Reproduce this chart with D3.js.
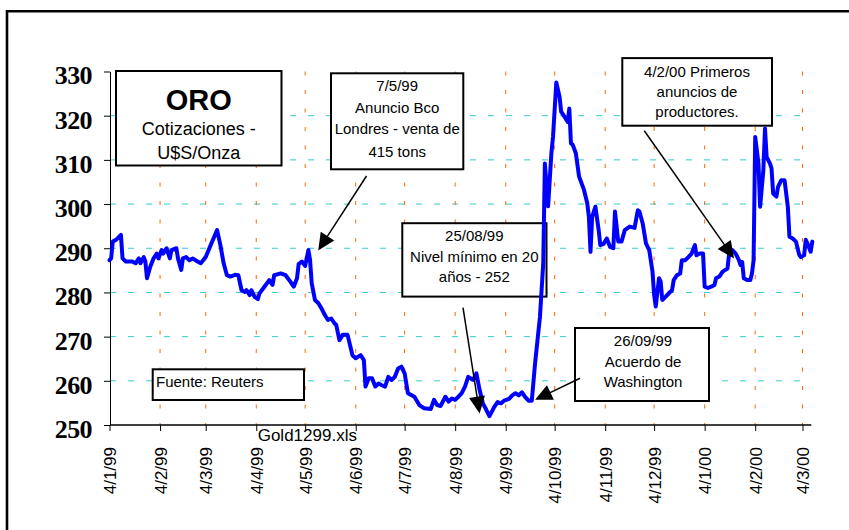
<!DOCTYPE html>
<html>
<head>
<meta charset="utf-8">
<script src="https://cdn.jsdelivr.net/npm/d3@7"></script>
<style>
  html, body { margin: 0; padding: 0; background: #fff; }
  svg { display: block; }
</style>
</head>
<body>
<svg id="chart" width="849" height="530"></svg>
<script>
// Gold quotes, US$ per ounce (one line per month)
const dates = [
  "1999-01-04","1999-01-05","1999-01-06","1999-01-08","1999-01-11","1999-01-12","1999-01-14","1999-01-18","1999-01-20","1999-01-22","1999-01-23","1999-01-25","1999-01-26","1999-01-27","1999-01-29","1999-01-31",
  "1999-02-02","1999-02-03","1999-02-05","1999-02-06","1999-02-08","1999-02-10","1999-02-11","1999-02-14","1999-02-15","1999-02-17","1999-02-18","1999-02-20","1999-02-22","1999-02-24","1999-02-27",
  "1999-03-01","1999-03-04","1999-03-07","1999-03-11","1999-03-13","1999-03-15","1999-03-17","1999-03-19","1999-03-22","1999-03-24","1999-03-26","1999-03-28","1999-03-29","1999-03-31",
  "1999-04-01","1999-04-03","1999-04-05","1999-04-06","1999-04-09","1999-04-12","1999-04-14","1999-04-15","1999-04-19","1999-04-22","1999-04-25","1999-04-27","1999-04-29","1999-04-30",
  "1999-05-02","1999-05-04","1999-05-06","1999-05-07","1999-05-08","1999-05-10","1999-05-12","1999-05-14","1999-05-16","1999-05-18","1999-05-20","1999-05-22","1999-05-23","1999-05-25","1999-05-27","1999-05-30",
  "1999-06-02","1999-06-04","1999-06-07","1999-06-09","1999-06-10","1999-06-12","1999-06-14","1999-06-16","1999-06-18","1999-06-20","1999-06-22","1999-06-24","1999-06-26","1999-06-28","1999-06-30",
  "1999-07-02","1999-07-04","1999-07-06","1999-07-08","1999-07-10","1999-07-13","1999-07-16","1999-07-20","1999-07-22","1999-07-24","1999-07-26","1999-07-29","1999-07-31",
  "1999-08-02","1999-08-04","1999-08-06","1999-08-08","1999-08-10","1999-08-12","1999-08-15","1999-08-17","1999-08-19","1999-08-21","1999-08-23","1999-08-25","1999-08-28","1999-08-30",
  "1999-09-01","1999-09-03","1999-09-06","1999-09-08","1999-09-10","1999-09-12","1999-09-14","1999-09-16","1999-09-18","1999-09-20","1999-09-22","1999-09-25","1999-09-27","1999-09-28","1999-09-30",
  "1999-10-02","1999-10-03","1999-10-05","1999-10-07","1999-10-08","1999-10-10","1999-10-12","1999-10-13","1999-10-14","1999-10-15","1999-10-17","1999-10-19","1999-10-22","1999-10-24","1999-10-25","1999-10-26","1999-10-27","1999-10-29","1999-10-31",
  "1999-11-01","1999-11-03","1999-11-05","1999-11-07","1999-11-09","1999-11-10","1999-11-12","1999-11-14","1999-11-16","1999-11-19","1999-11-22","1999-11-24","1999-11-25","1999-11-27","1999-11-29",
  "1999-12-01","1999-12-03","1999-12-04","1999-12-05","1999-12-07","1999-12-08","1999-12-09","1999-12-11","1999-12-13","1999-12-15","1999-12-16","1999-12-18","1999-12-20","1999-12-21","1999-12-23","1999-12-25","1999-12-27","1999-12-29","1999-12-30",
  "2000-01-01","2000-01-03","2000-01-04","2000-01-06","2000-01-08","2000-01-10","2000-01-11","2000-01-13","2000-01-15","2000-01-18","2000-01-19","2000-01-21","2000-01-23","2000-01-25","2000-01-26","2000-01-27","2000-01-28","2000-01-30",
  "2000-02-01","2000-02-02","2000-02-03","2000-02-04","2000-02-06","2000-02-07","2000-02-09","2000-02-10","2000-02-11","2000-02-13","2000-02-14","2000-02-15","2000-02-17","2000-02-18","2000-02-20","2000-02-22","2000-02-24","2000-02-25","2000-02-27","2000-02-29",
  "2000-03-02","2000-03-03","2000-03-05","2000-03-06","2000-03-07","2000-03-09","2000-03-10"
];
const prices = [
  287.3,287.7,291.5,291.9,293.0,287.7,287.0,287.0,286.6,287.7,286.6,288.0,287.0,283.2,285.8,287.7,
  288.8,287.7,289.6,288.8,290.0,287.7,289.6,290.0,287.7,285.1,287.7,288.0,287.3,287.7,287.0,
  286.6,288.0,290.7,294.1,290.7,286.6,283.9,283.6,284.0,283.9,280.5,280.1,280.5,279.4,
  280.5,279.0,278.5,279.8,281.3,282.8,281.7,283.9,284.3,283.9,282.4,281.3,283.2,286.4,
  287.0,286.0,289.6,287.3,282.1,278.3,277.6,276.4,274.9,273.8,274.1,273.0,272.7,269.2,270.4,270.4,
  265.8,265.1,265.8,264.7,258.7,260.6,260.6,258.7,259.4,259.0,258.7,260.9,260.2,260.9,262.8,
  263.2,261.7,257.2,256.8,256.4,254.5,253.8,253.6,255.7,254.5,254.3,256.4,255.3,
  256.0,255.7,256.4,257.2,258.7,260.9,260.2,261.7,257.9,254.9,253.5,252.0,254.1,255.2,
  254.9,255.5,255.9,256.7,257.2,256.7,257.4,256.3,255.5,255.5,264.0,274.5,286.6,309.2,299.5,
  311.5,315.2,327.5,324.3,320.9,319.8,318.6,321.6,313.7,313.5,311.5,306.2,303.2,300.2,297.1,289.2,297.1,299.4,294.1,
  290.7,291.0,292.2,290.3,290.0,298.3,291.5,291.5,294.1,294.9,294.6,298.6,298.3,295.6,291.1,
  289.6,284.7,279.5,276.8,283.2,282.5,278.3,279.0,279.8,280.5,282.8,283.9,284.3,287.3,287.3,288.0,288.8,290.7,288.4,
  288.8,288.8,281.3,281.0,281.3,281.7,283.2,283.6,284.7,285.4,288.8,289.6,288.8,287.3,286.2,286.9,283.2,282.8,
  282.8,284.3,287.3,315.2,309.2,299.4,307.7,317.1,310.7,309.2,308.1,302.4,301.7,303.9,305.4,305.4,299.4,292.6,292.2,291.5,
  288.5,288.0,288.4,291.9,291.1,289.2,291.5
];

const yTicks = [250, 260, 270, 280, 290, 300, 310, 320, 330];
const gridValues = [260, 270, 280, 290, 300, 310, 320];
const xTickLabels = ["4/1/99","4/2/99","4/3/99","4/4/99","4/5/99","4/6/99","4/7/99",
                     "4/8/99","4/9/99","4/10/99","4/11/99","4/12/99","4/1/00","4/2/00","4/3/00"];

// Call-out boxes: text, box geometry, line baselines, arrow start and the point it marks
const notes = [
  { lines: ["7/5/99", "Anuncio Bco", "Londres - venta de", "415 tons"],
    box: [331, 73.3, 132.3, 96], cx: 397.2, base: [90.7, 113.3, 134, 156.7],
    from: [366.5, 176], tipDate: "1999-05-12", tipValue: 289.5 },
  { lines: ["25/08/99", "Nivel mínimo en 20", "años - 252"],
    box: [402.3, 223.2, 144.2, 73.4], cx: 474.3, base: [240.7, 261.7, 282.3],
    from: [463, 307.6], tipDate: "1999-08-19", tipValue: 252.6 },
  { lines: ["26/09/99", "Acuerdo de", "Washington"],
    box: [575, 328, 134, 73], cx: 643, base: [346, 367.3, 387.3],
    from: [580, 378.3], tipDate: "1999-09-22", tipValue: 255.7 },
  { lines: ["4/2/00 Primeros", "anuncios de", "productores."],
    box: [622.3, 58.1, 149.7, 67.6], cx: 697, base: [76.7, 97.3, 117.3],
    from: [644.3, 130.7], tipDate: "2000-01-22", tipValue: 287.7 }
];

const sans = "'Liberation Sans', Arial, Helvetica, sans-serif";
const svg = d3.select("#chart");

const parseDate = d3.utcParse("%Y-%m-%d");
const parseTick = d3.utcParse("%d/%m/%y");
const series = dates.map((d, i) => ({ date: parseDate(d), value: prices[i] }));
const tickDates = xTickLabels.map(parseTick);

const x = d3.scaleUtc()
  .domain([tickDates[0], tickDates[tickDates.length - 1]])
  .range([109.5, 802.5]);
const y = d3.scaleLinear().domain([250, 330]).range([425, 71.5]);

const xEnd = x(series[series.length - 1].date) - 1;

// Outer frame
svg.append("path")
  .attr("d", "M7,540 V11.3 H860")
  .attr("fill", "none").attr("stroke", "#000").attr("stroke-width", 2.6);

// Horizontal grid
svg.append("g").selectAll("line").data(gridValues).join("line")
  .attr("x1", 110).attr("x2", xEnd)
  .attr("y1", d => y(d)).attr("y2", d => y(d))
  .attr("stroke", "#33CCCC").attr("stroke-width", 1)
  .attr("stroke-dasharray", "6,12");

// Vertical grid at each month tick
svg.append("g").selectAll("line").data(tickDates.slice(1)).join("line")
  .attr("x1", d => x(d)).attr("x2", d => x(d))
  .attr("y1", y(330)).attr("y2", y(250))
  .attr("stroke", "#FF6600").attr("stroke-width", 1)
  .attr("stroke-dasharray", "4,14.5");

// Y axis
const yAxis = svg.append("g")
  .attr("transform", "translate(110,0)")
  .call(d3.axisLeft(y).tickValues(yTicks).tickSize(6).tickSizeOuter(0).tickFormat(d3.format("d")));
yAxis.select(".domain").attr("stroke", "#000").attr("stroke-width", 1);
yAxis.selectAll(".tick line").attr("stroke", "#000");
yAxis.selectAll(".tick text")
  .attr("x", -18).attr("dy", "0.48em")
  .attr("font-family", "'Liberation Serif', 'Times New Roman', serif")
  .attr("font-weight", "bold").attr("font-size", 26)
  .attr("letter-spacing", -0.6).attr("fill", "#000");

// X axis
const xAxis = svg.append("g")
  .attr("transform", "translate(0,425)")
  .call(d3.axisBottom(x).tickValues(tickDates).tickSize(6).tickSizeOuter(0)
    .tickFormat((d, i) => xTickLabels[i]));
xAxis.select(".domain").remove();
xAxis.append("line")
  .attr("x1", 110).attr("x2", xEnd).attr("y1", 0).attr("y2", 0)
  .attr("stroke", "#000").attr("stroke-width", 1.5);
xAxis.selectAll(".tick line").attr("stroke", "#000");
xAxis.selectAll(".tick text")
  .attr("transform", "rotate(-90)")
  .attr("x", -22).attr("y", 0).attr("dy", "0.35em")
  .attr("text-anchor", "end")
  .attr("font-family", sans).attr("font-size", 17).attr("fill", "#000");

svg.append("text")
  .attr("x", 257.7).attr("y", 441)
  .attr("font-family", sans).attr("font-size", 17)
  .text("Gold1299.xls");

// Title box
const title = svg.append("g");
title.append("rect").attr("x", 116).attr("y", 71).attr("width", 165.5).attr("height", 94.5)
  .attr("fill", "#fff").attr("stroke", "#000").attr("stroke-width", 2);
title.append("text").attr("x", 198.7).attr("y", 109.5).attr("text-anchor", "middle")
  .attr("font-family", sans).attr("font-weight", "bold").attr("font-size", 29).text("ORO");
title.append("text").attr("x", 198.7).attr("y", 135).attr("text-anchor", "middle")
  .attr("font-family", sans).attr("font-size", 18).text("Cotizaciones -");
title.append("text").attr("x", 198.7).attr("y", 159).attr("text-anchor", "middle")
  .attr("font-family", sans).attr("font-size", 18).text("U$S/Onza");

// Source box
const src = svg.append("g");
src.append("rect").attr("x", 152.7).attr("y", 369.3).attr("width", 151.3).attr("height", 30.7)
  .attr("fill", "#fff").attr("stroke", "#000").attr("stroke-width", 2);
src.append("text").attr("x", 156).attr("y", 387)
  .attr("font-family", sans).attr("font-size", 15).text("Fuente: Reuters");

// Call-out boxes
const noteG = svg.append("g").selectAll("g").data(notes).join("g");
noteG.append("rect")
  .attr("x", d => d.box[0]).attr("y", d => d.box[1])
  .attr("width", d => d.box[2]).attr("height", d => d.box[3])
  .attr("fill", "#fff").attr("stroke", "#000").attr("stroke-width", 2);
noteG.each(function(d) {
  const g = d3.select(this);
  d.lines.forEach((t, i) => {
    g.append("text").attr("x", d.cx).attr("y", d.base[i])
      .attr("text-anchor", "middle")
      .attr("font-family", sans).attr("font-size", 15).text(t);
  });
});

// Price line
const line = d3.line().x(d => x(d.date)).y(d => y(d.value));
svg.append("path")
  .datum(series)
  .attr("d", line)
  .attr("fill", "none").attr("stroke", "#0000FF")
  .attr("stroke-width", 4).attr("stroke-linejoin", "round").attr("stroke-linecap", "round");

// Arrows from call-outs to the marked points
const arrows = svg.append("g");
notes.forEach(d => {
  const tx = x(parseDate(d.tipDate)), ty = y(d.tipValue);
  const [sx, sy] = d.from;
  const len = Math.hypot(tx - sx, ty - sy);
  const ux = (tx - sx) / len, uy = (ty - sy) / len;
  const hl = 17, hw = 8;
  const bx = tx - ux * hl, by = ty - uy * hl;
  arrows.append("line")
    .attr("x1", sx).attr("y1", sy).attr("x2", bx + ux * 2).attr("y2", by + uy * 2)
    .attr("stroke", "#000").attr("stroke-width", 1.5);
  arrows.append("path")
    .attr("d", `M${tx},${ty} L${bx - uy * hw},${by + ux * hw} L${bx + uy * hw},${by - ux * hw} Z`)
    .attr("fill", "#000");
});
</script>
</body>
</html>
